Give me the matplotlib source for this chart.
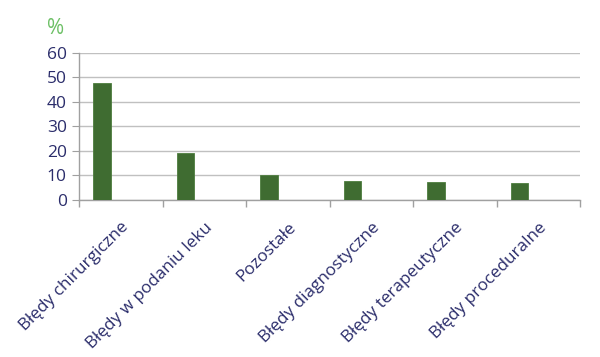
import numpy as np
import matplotlib
matplotlib.use("Agg")
import matplotlib.pyplot as plt
from matplotlib.ticker import FixedLocator

# ── Data ──────────────────────────────────────────────────────────────────────
categories = ["Błędy chirurgiczne", "Błędy w podaniu leku", "Pozostałe",
              "Błędy diagnostyczne", "Błędy terapeutyczne", "Błędy proceduralne"]
values = [47.9, 19.3, 10.3, 7.9, 7.3, 7.0]
y_ticks = [0, 10, 20, 30, 40, 50, 60]

NAVY = "#2b2d6b"
BAR = "#3f6c31"
GRID = "#c0c0c0"

plt.rcParams['font.family'] = ['Open Sans', 'DejaVu Sans']

fig = plt.figure(figsize=(6.0, 3.57), dpi=100)
ax = fig.add_axes([0.132, 0.44, 0.835, 0.4115])

x = np.arange(len(categories))
ax.bar(x - 0.225, values, width=0.21, color=BAR, edgecolor="#4d7d3e",
       linewidth=0.6, zorder=3)

ax.set_xlim(-0.5, len(categories) - 0.5)
ax.set_ylim(0, 60)
ax.set_yticks(y_ticks)
ax.yaxis.grid(True, color=GRID, linewidth=1.0, zorder=0)

# category boundary ticks
ax.set_xticks(x)
ax.set_xticklabels(categories, rotation=45, ha="right", rotation_mode="anchor",
                   fontsize=12.3, color=NAVY)
ax.tick_params(axis="x", which="major", length=0, pad=14)
ax.xaxis.set_minor_locator(FixedLocator(np.arange(-0.5, len(categories), 1.0)))
ax.tick_params(axis="x", which="minor", length=5, color="#a0a0a0", width=1.0)
ax.tick_params(axis="y", length=5, color="#a0a0a0", labelsize=12.5,
               labelcolor=NAVY, pad=4)

for side in ["top", "right"]:
    ax.spines[side].set_visible(False)
for side in ["left", "bottom"]:
    ax.spines[side].set_color("#a0a0a0")
    ax.spines[side].set_linewidth(1.0)

fig.text(0.093, 0.92, "%", color="#6dc066", fontsize=15, ha="center",
         va="center")

fig.savefig("out.png", dpi=100, facecolor="white")
